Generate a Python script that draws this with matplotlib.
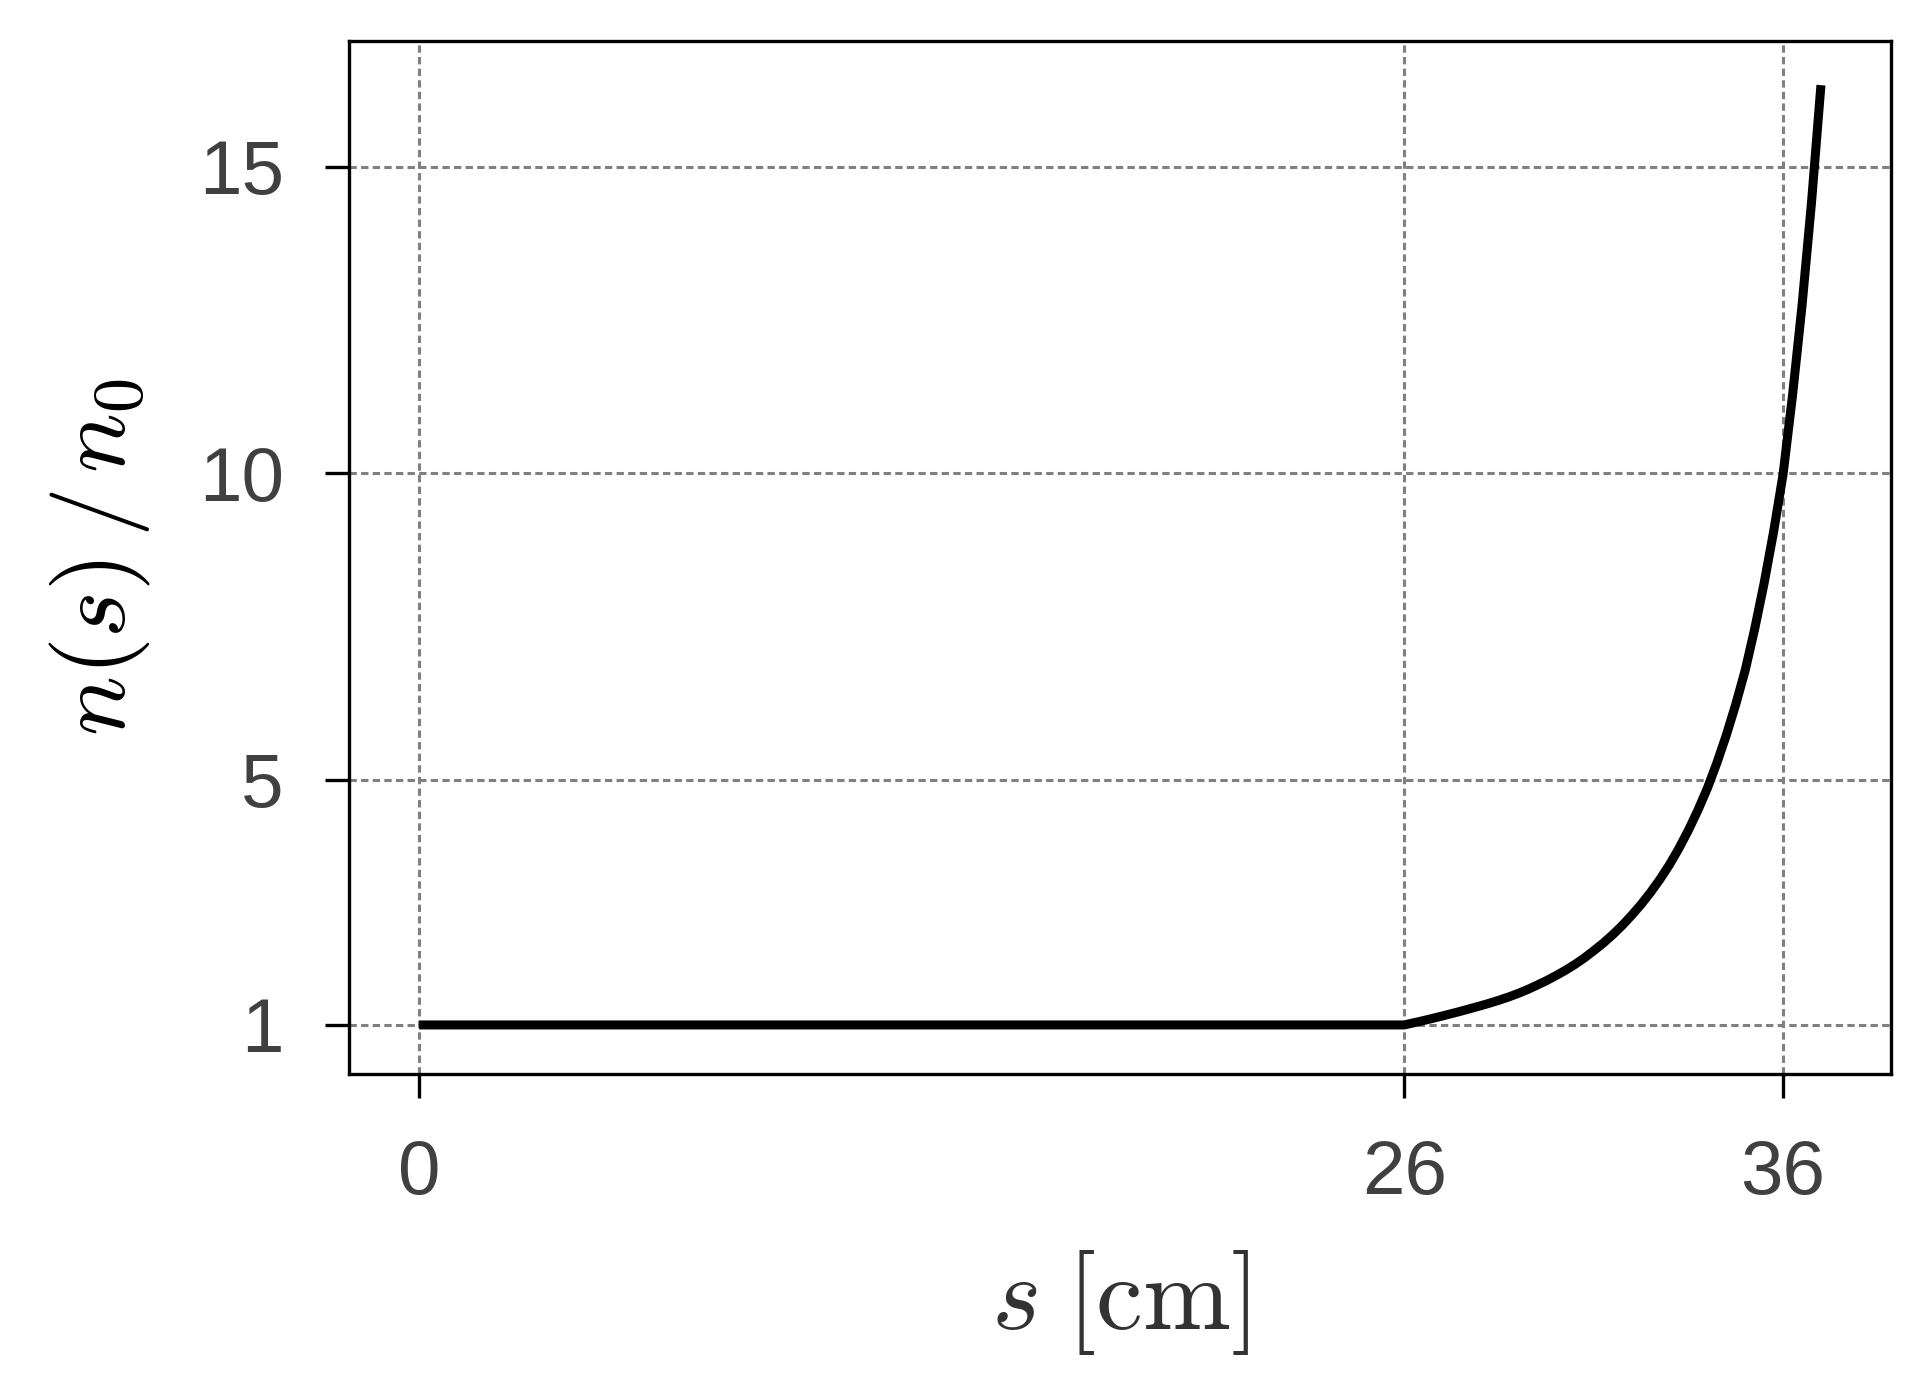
import numpy as np
import matplotlib
matplotlib.use("Agg")
import matplotlib.pyplot as plt

# density along the path
s_cm = [0, 26, 26.5, 27, 27.5, 28, 28.25, 28.5, 28.75, 29, 29.25, 29.5,
        29.75, 30, 30.25, 30.5, 30.75, 31, 31.25, 31.5, 31.75, 32, 32.25,
        32.5, 32.75, 33, 33.25, 33.5, 33.75, 34, 34.25, 34.5, 34.75, 35,
        35.25, 35.5, 35.75, 36, 36.25, 36.5, 36.75, 37]
n_rel = [1.0, 1.0, 1.07, 1.145, 1.225, 1.31, 1.355, 1.403, 1.455, 1.512,
         1.576, 1.647, 1.721, 1.803, 1.889, 1.985, 2.091, 2.209, 2.333,
         2.470, 2.620, 2.786, 2.964, 3.160, 3.375, 3.612, 3.879, 4.174,
         4.499, 4.857, 5.269, 5.723, 6.227, 6.783, 7.456, 8.206, 9.044,
         9.980, 11.27, 12.73, 14.41, 16.33]

xticks = [0, 26, 36]
yticks = [1, 5, 10, 15]

plt.rcParams['mathtext.fontset'] = 'cm'
plt.rcParams['font.family'] = ['Liberation Sans', 'DejaVu Sans']

fig = plt.figure(figsize=(19.21, 13.91), dpi=100)
ax = fig.add_axes([0.1817, 0.2279, 0.8027, 0.7426])

ax.plot(s_cm, n_rel, color='black', lw=6.5, solid_capstyle='butt',
        solid_joinstyle='round', zorder=3)

ax.set_xlim(-1.85, 38.85)
ax.set_ylim(0.2, 17.05)
ax.set_xticks(xticks)
ax.set_yticks(yticks)

ax.grid(True, color='#808080', lw=2.2, linestyle=(0, (2.4, 1.4)), zorder=1)
ax.set_axisbelow(True)

for sp in ax.spines.values():
    sp.set_linewidth(2.4)
    sp.set_color('black')

ax.tick_params(axis='both', direction='out', length=17, width=2.4,
               labelsize=55, labelcolor='#404040', color='black', pad=30)

ax.set_xlabel(r'$s\;[\mathrm{cm}]$', fontsize=76, color='#333333')
ax.set_ylabel(r'$n(s)\,/\,n_0$', fontsize=72, color='black')
ax.xaxis.set_label_coords(0.5, -0.168)
ax.yaxis.set_label_coords(-0.128, 0.5)

fig.savefig('out.png', dpi=100)
